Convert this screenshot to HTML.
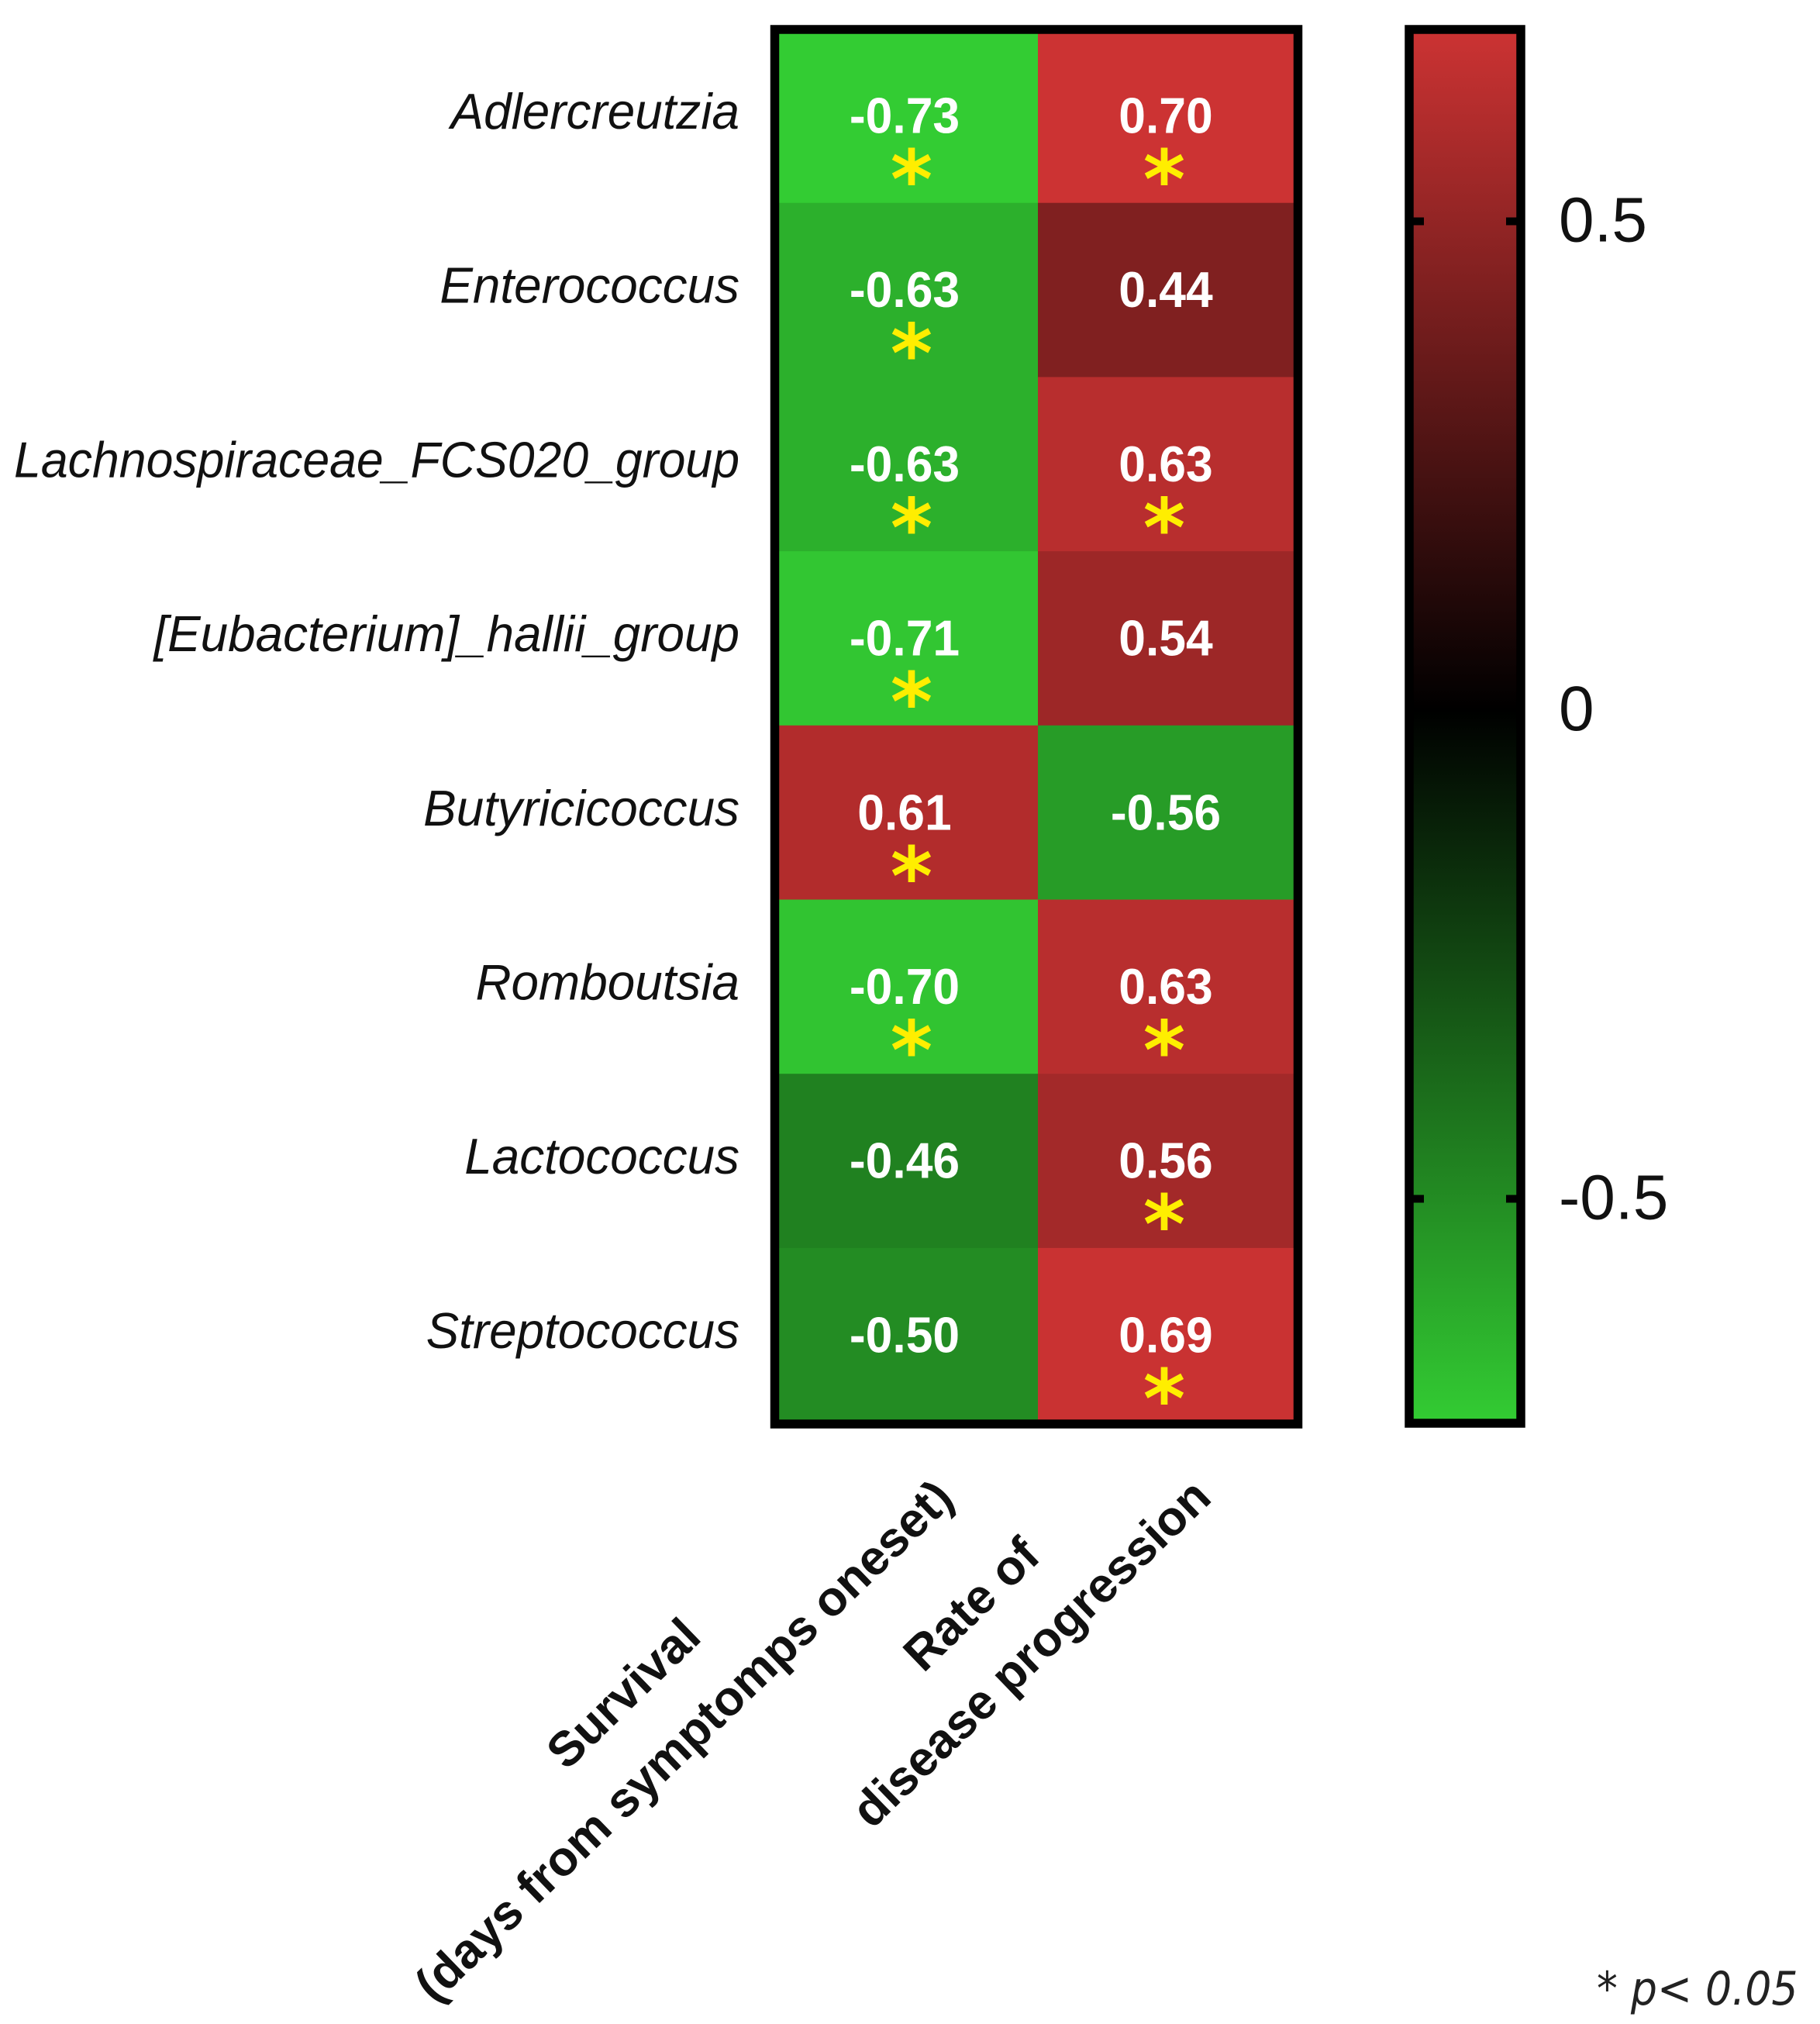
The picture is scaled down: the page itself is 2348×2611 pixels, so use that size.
<!DOCTYPE html>
<html lang="en">
<head>
<meta charset="utf-8">
<title>Correlation heatmap</title>
<style>
html,body{margin:0;padding:0;background:#fff;width:2348px;height:2611px;overflow:hidden}
svg{display:block}
text{font-family:"Liberation Sans",Arial,sans-serif}
</style>
</head>
<body>
<svg id="chart" xmlns="http://www.w3.org/2000/svg" width="2348" height="2611" viewBox="0 0 2348 2611">
  <defs>
    <linearGradient id="cbar-gradient" x1="0" y1="0" x2="0" y2="1">
      <stop id="stop-top" offset="0"></stop>
      <stop id="stop-mid" offset="0.5"></stop>
      <stop id="stop-bot" offset="1"></stop>
    </linearGradient>
    <clipPath id="plot-clip"><rect x="1000" y="38" width="674" height="1799"></rect></clipPath>
  </defs>
</svg>
<script>
const genera = ["Adlercreutzia","Enterococcus","Lachnospiraceae_FCS020_group","[Eubacterium]_hallii_group","Butyricicoccus","Romboutsia","Lactococcus","Streptococcus"];
const survivalValues = [-0.73,-0.63,-0.63,-0.71,0.61,-0.70,-0.46,-0.50];
const progressionValues = [0.70,0.44,0.63,0.54,-0.56,0.63,0.56,0.69];
const survivalSignificant = [true,true,true,true,true,true,false,false];
const progressionSignificant = [true,false,true,false,false,true,true,true];
const colorbarTicks = [0.5,0,-0.5];
const colorbarTickLabels = ["0.5","0","-0.5"];
const colorDomainMin = -0.73;
const colorDomainMax = 0.70;

const NS = "http://www.w3.org/2000/svg";
const svg = document.getElementById("chart");
const seriesValues = [survivalValues, progressionValues];
const seriesSignificant = [survivalSignificant, progressionSignificant];

function make(tag, attrs, text) {
  const el = document.createElementNS(NS, tag);
  for (const k in attrs) el.setAttribute(k, attrs[k]);
  if (text !== undefined) el.textContent = text;
  svg.appendChild(el);
  return el;
}
function rowTop(i) { return 37 + 224.7 * i; }
const rowHeight = 224.7;
function colLeft(j) { return j === 0 ? 1005 : 1339; }
function colWidth(j) { return j === 0 ? 334 : 330; }
function colCenter(j) { return colLeft(j) + colWidth(j) / 2; }
function colorOf(v) {
  const t = v >= 0 ? Math.min(v / colorDomainMax, 1) : Math.min(-v / -colorDomainMin, 1);
  const hi = Math.round(204 * t), lo = Math.round(51 * t);
  return v >= 0 ? `rgb(${hi},${lo},${lo})` : `rgb(${lo},${hi},${lo})`;
}
const cbarTop = 43, cbarBottom = 1831;
function cbarY(v) { return 916 - v * 1261; }

// heatmap cells, values, significance marks
genera.forEach(function (name, i) {
  seriesValues.forEach(function (vals, j) {
    const cell = make("rect", {x: colLeft(j), y: rowTop(i), width: colWidth(j), height: rowHeight + 0.5, fill: colorOf(vals[i]), "clip-path": "url(#plot-clip)"});
    
    
  });
});
genera.forEach(function (name, i) {
  const labelScale = name.length > 26 ? 0.963 : 0.982;
  const label = make("text", {x: 0, y: 0, "text-anchor": "end", "font-size": 65, "font-style": "italic", fill: "#111",
    transform: `translate(954,${rowTop(i) + 129}) scale(${labelScale},1)`}, name);
  
  
  seriesValues.forEach(function (vals, j) {
    const cx = colCenter(j) + (j === 0 ? -5 : 0);
    const val = make("text", {x: 0, y: 0, "text-anchor": "middle", "font-size": 65, "font-weight": "bold", fill: "#fff",
      transform: `translate(${cx},${rowTop(i) + 134.5}) scale(0.96,1)`}, vals[i].toFixed(2));
    
    
    if (seriesSignificant[j][i]) {
      const sx = colCenter(j) + (j === 0 ? 4 : -2);
      const star = make("text", {x: sx, y: rowTop(i) + 231, "text-anchor": "middle", "font-size": 104, "font-weight": "bold", fill: "#ffee00",
        style: 'font-family:"DejaVu Sans",sans-serif'}, "*");
      
      
    }
  });
});

// heatmap frame
const frame = make("rect", {x: 999.5, y: 38, width: 675, height: 1799, fill: "none", stroke: "#000", "stroke-width": 11.5});



// colorbar
document.getElementById("stop-top").setAttribute("stop-color", colorOf(colorDomainMax));
document.getElementById("stop-mid").setAttribute("stop-color", "#000");
document.getElementById("stop-mid").setAttribute("offset", (cbarY(0) - cbarTop) / (cbarBottom - cbarTop));
document.getElementById("stop-bot").setAttribute("stop-color", colorOf(colorDomainMin));
const cbar = make("rect", {x: 1818, y: cbarTop - 5, width: 144, height: cbarBottom - cbarTop + 10, fill: "url(#cbar-gradient)", stroke: "#000", "stroke-width": 11.5});


colorbarTicks.forEach(function (t, k) {
  const y = cbarY(t);
  if (t !== 0) {
    const tl = make("rect", {x: 1823, y: y - 5, width: 14, height: 10, fill: "#000"});
    
    
    const tr = make("rect", {x: 1943, y: y - 5, width: 14, height: 10, fill: "#000"});
    
    
  }
  const lab = make("text", {x: 2011, y: y + 26, "font-size": 82, fill: "#111"}, colorbarTickLabels[k]);
  
  
});

// rotated column labels
const l1 = make("text", {x: 0, y: 0, "text-anchor": "middle", "font-size": 63, "font-weight": "bold", fill: "#111", transform: "translate(819,2200) rotate(-44)"}, "Survival");


const l2 = make("text", {x: 0, y: 0, "text-anchor": "middle", "font-size": 63, "font-weight": "bold", fill: "#111", transform: "translate(897,2261) rotate(-44)"}, "(days from symptomps oneset)");


const l3 = make("text", {x: 0, y: 0, "text-anchor": "middle", "font-size": 63, "font-weight": "bold", fill: "#111", transform: "translate(1268,2085) rotate(-44)"}, "Rate of");


const l4 = make("text", {x: 0, y: 0, "text-anchor": "middle", "font-size": 63, "font-weight": "bold", fill: "#111", transform: "translate(1345,2148) rotate(-44)"}, "disease progression");



// footnote
const note = make("text", {x: 0, y: 0, "font-size": 60, "font-style": "italic", fill: "#222", style: 'font-family:"DejaVu Sans",sans-serif',
  transform: "translate(2060,2586) scale(0.895,1)"}, "* p< 0.05");


</script>
</body>
</html>
